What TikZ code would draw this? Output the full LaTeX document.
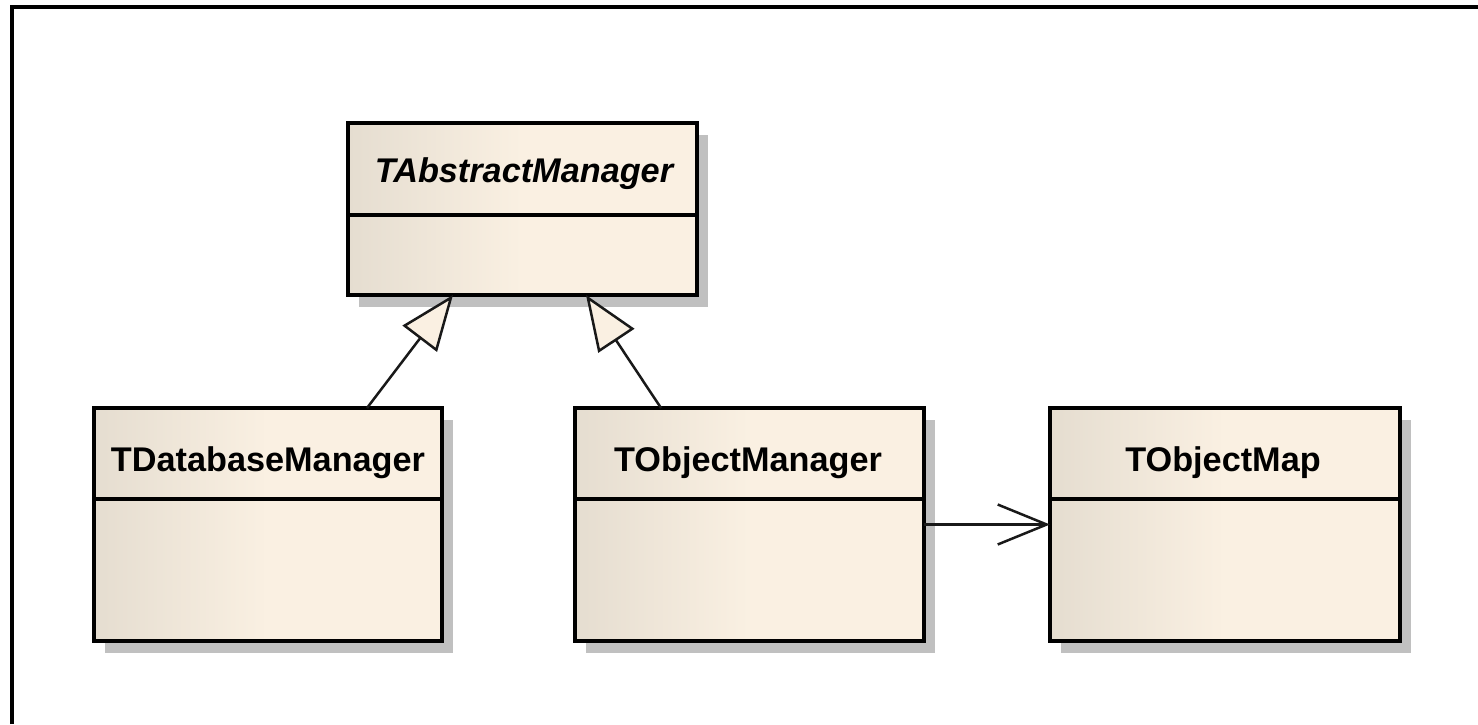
\documentclass[tikz,border=0pt]{standalone}
\usepackage{fontspec}
\setmainfont{Liberation Sans}
\usetikzlibrary{arrows.meta,shadows}

\definecolor{classdark}{RGB}{229,221,208}
\definecolor{classlight}{RGB}{250,240,226}
\definecolor{shadowgray}{RGB}{192,192,192}

\tikzset{
  classbox/.style={
    draw=black, line width=0.08cm, rectangle, inner sep=0pt, outer sep=0pt,
    left color=classdark, right color=classlight, middle color=classlight,
    drop shadow={shadow xshift=0.22cm, shadow yshift=-0.24cm,
                 fill=shadowgray, opacity=1}
  },
  divider/.style={draw=black, line width=0.07cm},
  title/.style={anchor=base, inner sep=0pt,
    font=\fontsize{19.5}{23}\selectfont\bfseries},
  frameline/.style={draw=black, line width=0.08cm},
  connector/.style={draw=black!90, line width=0.05cm},
  generalization/.style={connector,
    -{Triangle[length=1.1cm, width=0.86cm, fill=classlight]}},
  association/.style={connector,
    -{Straight Barb[length=0.98cm, width=0.8cm]}}
}

\begin{document}
\begin{tikzpicture}[x=0.02cm, y=-0.02cm]
  \useasboundingbox (0,0) rectangle (1478,724);

  % diagram frame (only its top and left edges fall inside the page)
  \draw[frameline] (12,724) -- (12,7) -- (1478,7);

  % classes
  \node[classbox, minimum width=349*0.02cm, minimum height=172*0.02cm]
    (A) at (522.5,209) {};
  \node[classbox, minimum width=348*0.02cm, minimum height=233*0.02cm]
    (D) at (268,524.5) {};
  \node[classbox, minimum width=349*0.02cm, minimum height=233*0.02cm]
    (OM) at (749.5,524.5) {};
  \node[classbox, minimum width=350*0.02cm, minimum height=233*0.02cm]
    (Map) at (1225,524.5) {};

  % compartment dividers
  \draw[divider] ([yshift=-92*0.02cm]A.north west) -- ([yshift=-92*0.02cm]A.north east);
  \draw[divider] ([yshift=-91*0.02cm]D.north west) -- ([yshift=-91*0.02cm]D.north east);
  \draw[divider] ([yshift=-91*0.02cm]OM.north west) -- ([yshift=-91*0.02cm]OM.north east);
  \draw[divider] ([yshift=-91*0.02cm]Map.north west) -- ([yshift=-91*0.02cm]Map.north east);

  % class names
  \node[title, font=\fontsize{19.5}{23}\selectfont\bfseries\itshape]
    (At) at (524,182) {TAbstractManager};
  \node[title] (Dt) at (268,471) {TDatabaseManager};
  \node[title] (OMt) at (748,471) {TObjectManager};
  \node[title] (Mapt) at (1223,471) {TObjectMap};

  % inheritance
  \draw[generalization] ([xshift=273*0.02cm]D.north west) -- ([xshift=105*0.02cm]A.south west);
  \draw[generalization] ([xshift=86*0.02cm]OM.north west) -- ([xshift=238*0.02cm]A.south west);

  % association
  \draw[association] (OM.east) -- (Map.west);
\end{tikzpicture}
\end{document}
